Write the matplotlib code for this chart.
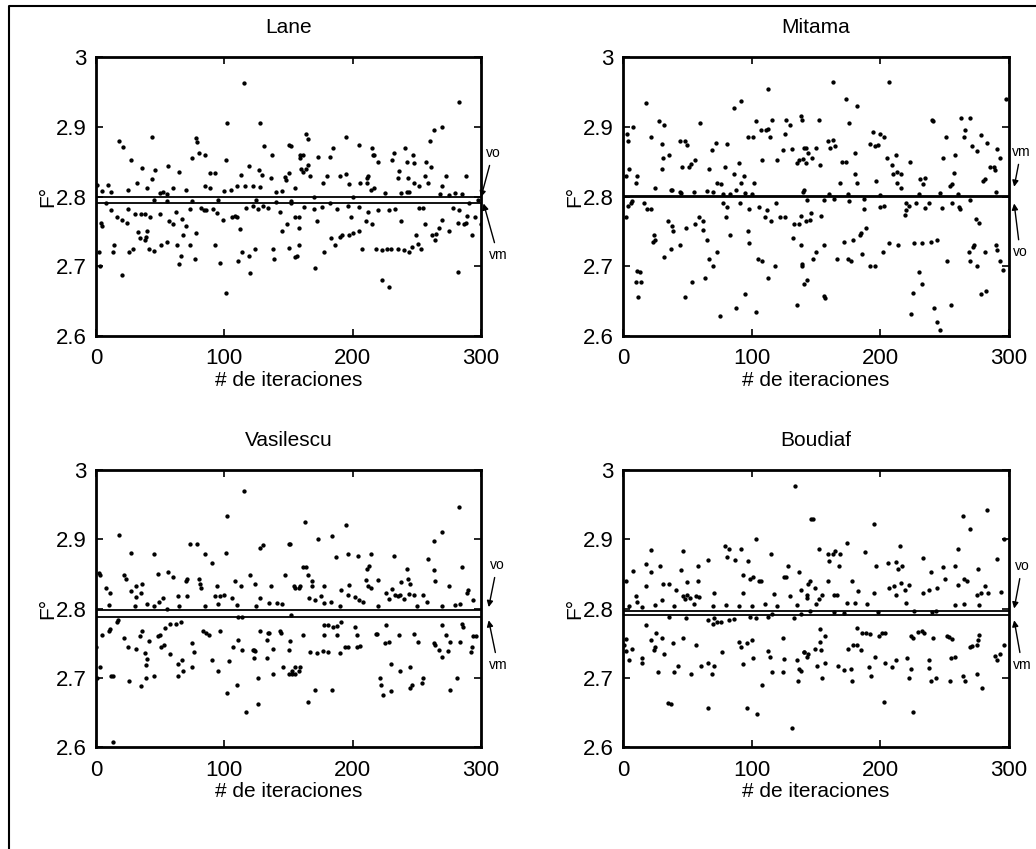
import matplotlib
matplotlib.use('Agg')
import matplotlib.pyplot as plt
from matplotlib.lines import Line2D
from matplotlib.ticker import FormatStrFormatter

plt.rcParams['font.family'] = ['Liberation Sans', 'DejaVu Sans']

TITLES = ['Lane', 'Mitama', 'Vasilescu', 'Boudiaf']
XLABEL = '# de iteraciones'
YLABEL = 'F°'
X_TICKS = [0, 100, 200, 300]
Y_TICKS = [2.6, 2.7, 2.8, 2.9, 3.0]

# reference lines (vo, vm) per panel
vo_vals = [2.799, 2.801, 2.798, 2.796]
vm_vals = [2.791, 2.799, 2.788, 2.790]

# (iteration, F) points
lane_pts = [
    (115, 2.963), (102, 2.905), (128, 2.905), (44, 2.886), (18, 2.879), (21, 2.871), (78, 2.884), (79, 2.878),
    (80, 2.862), (85, 2.86), (27, 2.853), (75, 2.855), (36, 2.841), (46, 2.838), (56, 2.844), (65, 2.835),
    (44, 2.825), (32, 2.819), (1, 2.816), (9, 2.816), (89, 2.834), (93, 2.834), (101, 2.852), (119, 2.844),
    (113, 2.831), (127, 2.838), (129, 2.831), (137, 2.86), (131, 2.872), (152, 2.872), (159, 2.855), (150, 2.833),
    (147, 2.828), (148, 2.824), (136, 2.826), (283, 2.935), (263, 2.896), (270, 2.899), (260, 2.88), (164, 2.89),
    (165, 2.882), (195, 2.885), (205, 2.874), (185, 2.87), (215, 2.87), (216, 2.86), (217, 2.86), (241, 2.87),
    (232, 2.862), (247, 2.86), (150, 2.874), (159, 2.86), (161, 2.86), (173, 2.856), (182, 2.856), (220, 2.85),
    (231, 2.852), (242, 2.85), (248, 2.848), (257, 2.85), (261, 2.842), (160, 2.84), (161, 2.835), (165, 2.845),
    (164, 2.84), (167, 2.83), (180, 2.83), (190, 2.83), (195, 2.832), (177, 2.82), (197, 2.818), (206, 2.82),
    (211, 2.82), (212, 2.83), (211, 2.826), (214, 2.81), (217, 2.812), (235, 2.826), (236, 2.836), (243, 2.826),
    (248, 2.82), (256, 2.83), (259, 2.82), (252, 2.815), (270, 2.815), (273, 2.83), (288, 2.83),
    (5, 2.808), (12, 2.806), (25, 2.81), (40, 2.812), (50, 2.805), (52, 2.806), (55, 2.804), (60, 2.812),
    (70, 2.81), (85, 2.815), (89, 2.812), (100, 2.808), (105, 2.81), (110, 2.815), (116, 2.815), (122, 2.815),
    (140, 2.806), (145, 2.808), (155, 2.812), (128, 2.813), (170, 2.8), (200, 2.8), (225, 2.805), (238, 2.805),
    (242, 2.806), (244, 2.806), (268, 2.803), (275, 2.802), (280, 2.805), (285, 2.803),
    (20, 2.688), (101, 2.662), (120, 2.69), (65, 2.703), (77, 2.71), (97, 2.705), (111, 2.708), (114, 2.72),
    (119, 2.715), (139, 2.71), (157, 2.715), (2, 2.72), (3, 2.70), (14, 2.73), (13, 2.72), (26, 2.72),
    (29, 2.725), (34, 2.74), (38, 2.738), (39, 2.742), (41, 2.725), (45, 2.722), (51, 2.73), (55, 2.735),
    (63, 2.73), (66, 2.715), (73, 2.73), (93, 2.73), (124, 2.725), (138, 2.725), (150, 2.726), (158, 2.73),
    (223, 2.68), (228, 2.67), (282, 2.692), (171, 2.697), (155, 2.713), (178, 2.72), (186, 2.73), (183, 2.74),
    (190, 2.742), (192, 2.745), (197, 2.745), (200, 2.748), (205, 2.75), (207, 2.725), (218, 2.725), (223, 2.723),
    (227, 2.725), (230, 2.725), (235, 2.725), (240, 2.723), (244, 2.72), (246, 2.728), (251, 2.732), (253, 2.725),
    (262, 2.745), (265, 2.746), (264, 2.738), (267, 2.755), (282, 2.762), (287, 2.76), (288, 2.762), (293, 2.745),
    (215, 2.76), (249, 2.745),
    (4, 2.762), (5, 2.757), (8, 2.79), (12, 2.78), (16, 2.77), (20, 2.767), (24, 2.762), (30, 2.775),
    (35, 2.775), (38, 2.775), (42, 2.77), (50, 2.775), (57, 2.765), (60, 2.76), (62, 2.778), (67, 2.768),
    (70, 2.757), (73, 2.782), (82, 2.784), (84, 2.78), (86, 2.78), (91, 2.782), (94, 2.777), (99, 2.766),
    (106, 2.77), (108, 2.772), (110, 2.77), (117, 2.784), (122, 2.786), (126, 2.782), (130, 2.786), (134, 2.783),
    (143, 2.778), (149, 2.76), (155, 2.77), (158, 2.755), (25, 2.782), (45, 2.795), (55, 2.793), (75, 2.793),
    (95, 2.795), (125, 2.795), (140, 2.792), (152, 2.794), (33, 2.749), (40, 2.75), (68, 2.745), (78, 2.748),
    (112, 2.753), (145, 2.75), (152, 2.79), (162, 2.785), (170, 2.782), (176, 2.785), (182, 2.79), (188, 2.782),
    (196, 2.787), (205, 2.785), (212, 2.778), (220, 2.78), (228, 2.78), (233, 2.782), (252, 2.783), (255, 2.784),
    (278, 2.783), (283, 2.78), (289, 2.772), (291, 2.79), (295, 2.77), (298, 2.795), (158, 2.77), (172, 2.765),
    (199, 2.77), (210, 2.765), (238, 2.765), (256, 2.76), (270, 2.766), (275, 2.75), (300, 2.76),
]

mitama_pts = [
    (18, 2.934), (8, 2.90), (3, 2.89), (4, 2.88), (22, 2.885), (28, 2.908), (32, 2.903), (30, 2.875),
    (31, 2.855), (36, 2.86), (30, 2.84), (5, 2.84), (11, 2.83), (10, 2.82), (2, 2.83), (37, 2.81),
    (44, 2.806), (46, 2.843), (44, 2.88), (48, 2.88), (50, 2.874), (51, 2.843), (53, 2.846), (56, 2.853),
    (60, 2.905), (67, 2.84), (69, 2.866), (72, 2.876), (73, 2.82), (76, 2.818), (81, 2.875), (79, 2.842),
    (86, 2.927), (92, 2.937), (86, 2.832), (88, 2.81), (90, 2.848), (92, 2.82), (94, 2.83), (97, 2.885),
    (101, 2.885), (103, 2.908), (102, 2.82), (107, 2.895), (111, 2.895), (113, 2.897), (114, 2.885), (108, 2.852),
    (113, 2.954), (116, 2.91), (120, 2.852), (124, 2.866), (127, 2.91), (130, 2.903), (131, 2.868), (126, 2.89),
    (135, 2.848), (137, 2.852), (139, 2.91), (140, 2.854), (141, 2.87), (142, 2.848), (141, 2.81),
    (163, 2.964), (207, 2.964), (173, 2.94), (182, 2.93), (176, 2.905), (152, 2.91), (138, 2.915), (194, 2.893),
    (200, 2.89), (203, 2.885), (192, 2.875), (196, 2.872), (198, 2.874), (159, 2.879), (163, 2.881), (161, 2.87),
    (165, 2.872), (142, 2.87), (150, 2.87), (147, 2.855), (144, 2.862), (170, 2.85), (173, 2.85), (180, 2.862),
    (153, 2.845), (180, 2.832), (169, 2.82), (182, 2.82), (197, 2.822), (205, 2.855), (212, 2.86), (209, 2.845),
    (210, 2.832), (213, 2.835), (216, 2.832), (213, 2.82), (216, 2.812), (223, 2.85), (231, 2.825), (235, 2.826),
    (233, 2.818), (240, 2.91), (241, 2.908), (251, 2.885), (249, 2.855), (258, 2.86), (257, 2.833), (254, 2.815),
    (256, 2.818), (263, 2.912), (270, 2.912), (266, 2.895), (265, 2.885), (271, 2.872), (275, 2.865), (278, 2.888),
    (283, 2.876), (291, 2.868), (293, 2.855), (285, 2.843), (288, 2.843), (289, 2.838), (281, 2.825), (280, 2.822),
    (298, 2.94),
    (25, 2.812), (38, 2.81), (45, 2.805), (55, 2.806), (65, 2.808), (70, 2.807), (78, 2.803), (83, 2.803),
    (95, 2.805), (100, 2.803), (140, 2.806), (160, 2.803), (175, 2.804), (200, 2.802), (230, 2.804), (246, 2.805),
    (260, 2.803), (290, 2.806),
    (10, 2.677), (14, 2.677), (12, 2.656), (11, 2.693), (13, 2.692), (2, 2.77), (4, 2.786), (6, 2.79),
    (7, 2.793), (16, 2.79), (19, 2.782), (22, 2.782), (23, 2.735), (24, 2.745), (25, 2.738), (32, 2.713),
    (35, 2.765), (37, 2.725), (38, 2.757), (39, 2.75), (44, 2.73), (48, 2.656), (49, 2.755), (54, 2.677),
    (56, 2.76), (59, 2.77), (62, 2.765), (62, 2.752), (65, 2.738), (64, 2.683), (67, 2.71), (70, 2.70),
    (73, 2.72), (75, 2.629), (78, 2.79), (80, 2.77), (81, 2.785), (83, 2.745), (88, 2.64), (91, 2.79),
    (95, 2.66), (98, 2.782), (97, 2.75), (98, 2.733), (103, 2.635), (105, 2.71), (108, 2.707), (106, 2.785),
    (112, 2.78), (110, 2.77), (113, 2.683), (115, 2.765), (118, 2.70), (119, 2.79), (122, 2.77), (126, 2.77),
    (132, 2.74), (133, 2.76), (135, 2.645), (137, 2.76), (139, 2.70), (141, 2.675), (142, 2.765),
    (143, 2.795), (156, 2.795), (164, 2.797), (176, 2.794), (187, 2.797), (138, 2.772), (146, 2.776), (145, 2.767),
    (154, 2.772), (138, 2.73), (156, 2.73), (150, 2.72), (148, 2.71), (139, 2.703), (143, 2.68), (156, 2.658),
    (157, 2.655), (166, 2.71), (175, 2.71), (177, 2.707), (172, 2.735), (179, 2.738), (184, 2.745), (185, 2.747),
    (189, 2.755), (186, 2.718), (192, 2.70), (196, 2.70), (187, 2.782), (200, 2.785), (203, 2.787), (202, 2.72),
    (207, 2.733), (214, 2.73), (220, 2.79), (222, 2.786), (219, 2.774), (220, 2.78), (226, 2.733), (230, 2.692),
    (232, 2.675), (225, 2.662), (224, 2.631), (232, 2.733), (239, 2.735), (244, 2.738), (228, 2.79), (235, 2.783),
    (238, 2.79), (242, 2.64), (244, 2.62), (246, 2.608), (252, 2.708), (255, 2.645), (248, 2.784), (256, 2.79),
    (261, 2.785), (262, 2.782), (270, 2.795), (274, 2.768), (277, 2.762), (269, 2.72), (270, 2.708), (272, 2.727),
    (273, 2.73), (275, 2.70), (278, 2.66), (282, 2.665), (281, 2.72), (290, 2.73), (291, 2.724), (293, 2.708),
    (295, 2.695),
]

vasilescu_pts = [
    (115, 2.970), (102, 2.934), (18, 2.906), (73, 2.893), (79, 2.893), (128, 2.888), (130, 2.892), (151, 2.893),
    (27, 2.88), (45, 2.878), (85, 2.878), (101, 2.88), (90, 2.866), (48, 2.85), (56, 2.852), (60, 2.845),
    (22, 2.848), (23, 2.843), (2, 2.851), (3, 2.848), (70, 2.84), (71, 2.842), (80, 2.842), (81, 2.835),
    (82, 2.83), (8, 2.83), (11, 2.822), (27, 2.825), (31, 2.832), (31, 2.817), (35, 2.822), (36, 2.835),
    (52, 2.815), (64, 2.818), (71, 2.818), (49, 2.81), (45, 2.804), (94, 2.832), (93, 2.818), (97, 2.818),
    (100, 2.82), (106, 2.815), (108, 2.84), (113, 2.832), (120, 2.848), (124, 2.836), (136, 2.833), (147, 2.848),
    (155, 2.83), (158, 2.83), (128, 2.815), (135, 2.808), (141, 2.808),
    (283, 2.947), (270, 2.91), (263, 2.897), (163, 2.925), (195, 2.92), (184, 2.905), (173, 2.90), (150, 2.893),
    (187, 2.874), (196, 2.878), (204, 2.876), (214, 2.878), (213, 2.862), (232, 2.876), (259, 2.872), (285, 2.86),
    (161, 2.86), (164, 2.86), (165, 2.848), (168, 2.84), (211, 2.857), (210, 2.841), (220, 2.841), (212, 2.833),
    (214, 2.83), (242, 2.857), (243, 2.843), (245, 2.835), (238, 2.838), (263, 2.855), (264, 2.839), (275, 2.832),
    (154, 2.832), (159, 2.832), (168, 2.832), (178, 2.832), (191, 2.826), (197, 2.834), (196, 2.819), (202, 2.816),
    (166, 2.815), (171, 2.812), (175, 2.818), (178, 2.808), (183, 2.81), (205, 2.812), (208, 2.809), (226, 2.823),
    (228, 2.813), (231, 2.828), (233, 2.819), (235, 2.818), (237, 2.819), (240, 2.814), (244, 2.821), (248, 2.819),
    (255, 2.819), (258, 2.809), (290, 2.827), (289, 2.822), (294, 2.812), (280, 2.805), (284, 2.807),
    (10, 2.805), (30, 2.803), (40, 2.806), (55, 2.8), (65, 2.803), (85, 2.804), (95, 2.806), (110, 2.805),
    (125, 2.803), (145, 2.806), (190, 2.804), (220, 2.803), (250, 2.804), (270, 2.803),
    (13, 2.607), (13, 2.703), (12, 2.703), (1, 2.70), (3, 2.716), (0, 2.745), (26, 2.695), (35, 2.688),
    (39, 2.70), (45, 2.702), (64, 2.703), (68, 2.71), (64, 2.72), (67, 2.726), (75, 2.716), (76, 2.737),
    (75, 2.75), (25, 2.745), (31, 2.742), (34, 2.76), (36, 2.767), (38, 2.736), (40, 2.727), (39, 2.719),
    (41, 2.753), (48, 2.76), (50, 2.762), (51, 2.745), (53, 2.748), (54, 2.772), (58, 2.777), (62, 2.777),
    (66, 2.78), (58, 2.734), (5, 2.762), (10, 2.768), (11, 2.77), (16, 2.78), (17, 2.784), (22, 2.758),
    (83, 2.768), (86, 2.765), (88, 2.762), (90, 2.725), (95, 2.71), (97, 2.767), (102, 2.678), (104, 2.724),
    (110, 2.69), (107, 2.745), (111, 2.754), (114, 2.74), (111, 2.788), (114, 2.788), (117, 2.651), (126, 2.662),
    (122, 2.74), (123, 2.74), (124, 2.739), (123, 2.728), (126, 2.70), (128, 2.767), (133, 2.755), (134, 2.765),
    (135, 2.765), (138, 2.742), (133, 2.728), (138, 2.706), (143, 2.767), (144, 2.765), (146, 2.715), (150, 2.74),
    (151, 2.753), (153, 2.706), (155, 2.706), (158, 2.71), (159, 2.715), (152, 2.79),
    (224, 2.675), (230, 2.681), (171, 2.683), (184, 2.683), (165, 2.665), (245, 2.685), (246, 2.69), (254, 2.692),
    (276, 2.683), (155, 2.715), (153, 2.71), (150, 2.705), (221, 2.70), (222, 2.69), (230, 2.72), (237, 2.71),
    (245, 2.715), (255, 2.70), (281, 2.70), (167, 2.737), (172, 2.736), (177, 2.739), (181, 2.737), (190, 2.736),
    (194, 2.745), (196, 2.744), (203, 2.745), (206, 2.746), (161, 2.762), (178, 2.762), (188, 2.762), (203, 2.762),
    (218, 2.763), (219, 2.763), (225, 2.75), (228, 2.752), (236, 2.762), (248, 2.763), (251, 2.752), (263, 2.75),
    (264, 2.747), (267, 2.74), (270, 2.73), (274, 2.738), (273, 2.762), (276, 2.752), (284, 2.752), (292, 2.737),
    (293, 2.745), (294, 2.76), (296, 2.76), (178, 2.776), (181, 2.776), (185, 2.774), (188, 2.775), (191, 2.78),
    (202, 2.774), (226, 2.776), (270, 2.776), (285, 2.777), (286, 2.773),
]

boudiaf_pts = [
    (134, 2.977), (146, 2.929), (148, 2.929), (103, 2.90), (22, 2.885), (47, 2.883), (79, 2.89), (82, 2.886),
    (92, 2.886), (115, 2.878), (81, 2.875), (87, 2.87), (66, 2.87), (97, 2.868), (18, 2.864), (22, 2.852),
    (29, 2.862), (45, 2.855), (58, 2.862), (8, 2.854), (93, 2.848), (101, 2.846), (99, 2.842), (106, 2.84),
    (128, 2.862), (125, 2.846), (127, 2.846), (137, 2.852), (2, 2.84), (18, 2.832), (31, 2.835), (36, 2.835),
    (41, 2.826), (50, 2.838), (58, 2.84), (10, 2.818), (11, 2.81), (30, 2.812), (50, 2.82), (57, 2.818),
    (59, 2.816), (47, 2.818), (48, 2.813), (52, 2.815), (71, 2.823), (93, 2.823), (107, 2.84), (117, 2.821),
    (130, 2.818), (143, 2.815), (152, 2.814), (155, 2.82),
    (283, 2.942), (264, 2.934), (270, 2.915), (195, 2.922), (174, 2.895), (152, 2.886), (159, 2.879), (163, 2.878),
    (165, 2.883), (169, 2.879), (160, 2.868), (188, 2.882), (215, 2.89), (260, 2.886), (296, 2.90), (197, 2.861),
    (168, 2.861), (206, 2.866), (212, 2.867), (217, 2.862), (214, 2.857), (233, 2.873), (249, 2.86), (258, 2.862),
    (239, 2.852), (276, 2.857), (291, 2.871), (145, 2.84), (144, 2.836), (149, 2.83), (159, 2.84), (178, 2.84),
    (250, 2.842), (265, 2.842), (267, 2.84), (138, 2.826), (143, 2.82), (164, 2.82), (166, 2.82), (183, 2.825),
    (195, 2.822), (207, 2.83), (211, 2.832), (216, 2.837), (222, 2.834), (212, 2.82), (219, 2.826), (238, 2.826),
    (244, 2.83), (233, 2.822), (260, 2.834), (275, 2.82), (278, 2.822), (281, 2.832), (284, 2.822), (294, 2.824),
    (174, 2.808), (180, 2.808), (190, 2.806), (220, 2.808), (258, 2.805), (265, 2.806), (277, 2.805),
    (5, 2.804), (15, 2.802), (25, 2.805), (40, 2.803), (55, 2.806), (70, 2.804), (80, 2.805), (90, 2.803),
    (100, 2.804), (110, 2.806), (120, 2.803), (135, 2.805), (150, 2.806),
    (131, 2.628), (104, 2.647), (66, 2.656), (96, 2.656), (35, 2.663), (37, 2.662), (27, 2.708), (40, 2.708),
    (53, 2.706), (69, 2.705), (108, 2.69), (116, 2.708), (124, 2.708), (136, 2.695), (15, 2.728), (15, 2.722),
    (5, 2.725), (2, 2.738), (2, 2.756), (1, 2.748), (7, 2.742), (24, 2.74), (25, 2.745), (32, 2.735),
    (22, 2.755), (26, 2.764), (30, 2.757), (39, 2.75), (47, 2.757), (57, 2.748), (43, 2.717), (61, 2.717),
    (66, 2.722), (71, 2.717), (77, 2.737), (90, 2.752), (92, 2.745), (96, 2.75), (100, 2.755), (93, 2.72),
    (101, 2.728), (113, 2.738), (114, 2.73), (124, 2.758), (125, 2.727), (135, 2.725), (137, 2.713), (141, 2.737),
    (144, 2.735), (18, 2.776), (36, 2.788), (49, 2.786), (66, 2.784), (71, 2.786), (70, 2.777), (73, 2.78),
    (76, 2.781), (82, 2.783), (86, 2.785), (99, 2.788), (103, 2.786), (113, 2.788), (116, 2.792), (133, 2.787),
    (203, 2.665), (225, 2.65), (155, 2.70), (178, 2.696), (193, 2.702), (222, 2.70), (239, 2.696), (243, 2.70),
    (254, 2.696), (264, 2.702), (266, 2.695), (279, 2.685), (138, 2.71), (151, 2.717), (157, 2.722), (167, 2.717),
    (172, 2.711), (177, 2.713), (191, 2.715), (204, 2.722), (209, 2.715), (212, 2.725), (221, 2.728), (224, 2.712),
    (238, 2.725), (238, 2.714), (255, 2.728), (258, 2.73), (275, 2.706), (291, 2.725), (289, 2.732), (293, 2.735),
    (296, 2.747), (141, 2.737), (143, 2.73), (149, 2.742), (154, 2.74), (153, 2.752), (157, 2.76), (153, 2.77),
    (175, 2.741), (179, 2.747), (182, 2.748), (185, 2.74), (196, 2.73), (182, 2.772), (186, 2.765), (189, 2.764),
    (192, 2.763), (199, 2.76), (201, 2.765), (204, 2.765), (224, 2.76), (225, 2.758), (229, 2.766), (232, 2.768),
    (234, 2.765), (241, 2.758), (252, 2.76), (253, 2.759), (256, 2.756), (270, 2.744), (271, 2.746), (275, 2.748),
    (276, 2.754), (277, 2.762), (138, 2.792), (145, 2.797), (164, 2.795), (172, 2.794), (198, 2.795), (226, 2.797),
    (240, 2.795), (243, 2.797),
]

# arrow labels: (upper label, lower label) per panel, and where their text sits / tips point
upper_labels = ['vo', 'vm', 'vo', 'vo']
lower_labels = ['vm', 'vo', 'vm', 'vm']
upper_text_pos = [(1.031, 0.656), (1.031, 0.66), (1.042, 0.657), (1.034, 0.653)]
lower_text_pos = [(1.044, 0.29), (1.029, 0.30), (1.044, 0.296), (1.034, 0.296)]
upper_tips = [(300, 2.799), (304, 2.814), (306, 2.802), (304, 2.80)]
lower_tips = [(302, 2.790), (304, 2.790), (306, 2.783), (304, 2.783)]

all_pts = [lane_pts, mitama_pts, vasilescu_pts, boudiaf_pts]

W, H = 1036, 849
fig = plt.figure(figsize=(W / 100, H / 100), dpi=100)

# axes boxes in pixels: left, top, right, bottom
boxes = [(96, 57, 481, 336), (623, 57, 1009, 336), (96, 470, 481, 747), (623, 470, 1009, 747)]

for i, pts in enumerate(all_pts):
    l, t, r, b = boxes[i]
    ax = fig.add_axes([l / W, 1 - b / H, (r - l) / W, (b - t) / H])
    xs = [p[0] for p in pts]
    ys = [p[1] for p in pts]
    ax.plot(xs, ys, 'k.', markersize=4.2, clip_on=True)
    ax.axhline(vo_vals[i], color='k', lw=1.3)
    ax.axhline(vm_vals[i], color='k', lw=1.3)

    ax.set_xlim(0, 300)
    ax.set_ylim(2.6, 3.0)
    ax.set_xticks(X_TICKS)
    ax.set_yticks(Y_TICKS)
    ax.yaxis.set_major_formatter(FormatStrFormatter('%g'))
    ax.tick_params(direction='in', length=5, width=1.2, top=True, right=True,
                   labelsize=16, pad=7)
    ax.tick_params(axis='x', pad=9)
    for sp in ax.spines.values():
        sp.set_linewidth(2.0)

    ax.set_title(TITLES[i], fontsize=15, pad=17)
    ax.set_xlabel(XLABEL, fontsize=15, labelpad=1)
    ax.set_ylabel(YLABEL, fontsize=15, labelpad=-1)

    ax.annotate(upper_labels[i], xy=upper_tips[i], xycoords='data',
                xytext=upper_text_pos[i], textcoords='axes fraction',
                ha='center', va='center', fontsize=10, annotation_clip=False,
                arrowprops=dict(arrowstyle='-|>', color='k', lw=1.0,
                                mutation_scale=9, shrinkA=2, shrinkB=0))
    ax.annotate(lower_labels[i], xy=lower_tips[i], xycoords='data',
                xytext=lower_text_pos[i], textcoords='axes fraction',
                ha='center', va='center', fontsize=10, annotation_clip=False,
                arrowprops=dict(arrowstyle='-|>', color='k', lw=1.0,
                                mutation_scale=9, shrinkA=2, shrinkB=0))

# scanned page frame: only left and top edges are visible
fig.add_artist(Line2D([9 / W, 9 / W, 1.0], [0.0, 1 - 6 / H, 1 - 6 / H],
                      transform=fig.transFigure, color='k', lw=1.5))

fig.savefig('out.png', dpi=100)
